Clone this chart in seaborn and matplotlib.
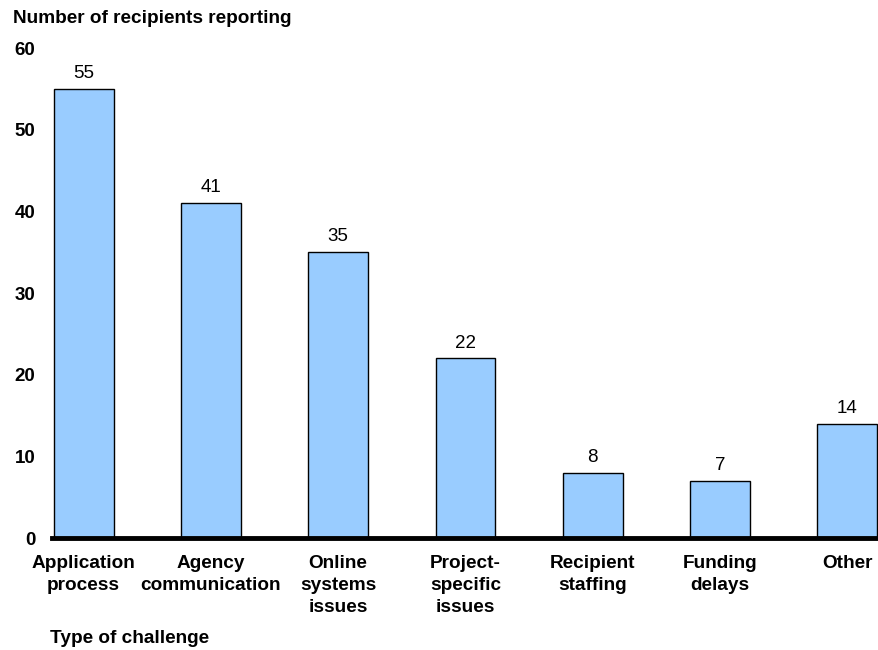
import matplotlib
matplotlib.use("Agg")
import matplotlib.pyplot as plt
import seaborn as sns
import pandas as pd

# data
challenges = ["Application\nprocess", "Agency\ncommunication", "Online\nsystems\nissues",
              "Project-\nspecific\nissues", "Recipient\nstaffing", "Funding\ndelays", "Other"]
recipients = [55, 41, 35, 22, 8, 7, 14]
y_ticks = [0, 10, 20, 30, 40, 50, 60]

sns.set_theme(style="white")
plt.rcParams['font.family'] = ['Liberation Sans', 'DejaVu Sans']
plt.rcParams['text.color'] = 'black'

df = pd.DataFrame({'Challenge': challenges, 'Recipients': recipients})

fig = plt.figure(figsize=(8.79, 6.5), dpi=100)
ax = fig.add_axes([0.059, 0.172, 0.941, 0.754])

sns.barplot(x='Challenge', y='Recipients', data=df, ax=ax, color='#99CCFF',
            saturation=1, edgecolor='black', linewidth=1, width=0.47)

for c in ax.containers:
    ax.bar_label(c, labels=[str(v) for v in recipients], padding=5, fontsize=13.5, color='black')

ax.set_xlim(-0.25, 6.25)
ax.set_ylim(0, 60)
ax.set_yticks(y_ticks)
ax.set_yticklabels([str(t) for t in y_ticks], fontsize=13.5, fontweight='bold')
ax.set_xticklabels(challenges, fontsize=13.7, fontweight='bold', linespacing=1.38)
ax.tick_params(axis='x', length=0, pad=12, colors='black')
ax.tick_params(axis='y', length=0, pad=12, colors='black')
ax.set_xlabel('')
ax.set_ylabel('')

for s in ['top', 'right', 'left']:
    ax.spines[s].set_visible(False)
ax.spines['bottom'].set_color('black')
ax.spines['bottom'].set_linewidth(3.5)

fig.text(0.015, 0.972, 'Number of recipients reporting', fontsize=13.7, fontweight='bold',
         ha='left', va='center', color='black')
fig.text(0.057, 0.018, 'Type of challenge', fontsize=13.7, fontweight='bold',
         ha='left', va='center', color='black')

fig.savefig('out.png', dpi=100)
